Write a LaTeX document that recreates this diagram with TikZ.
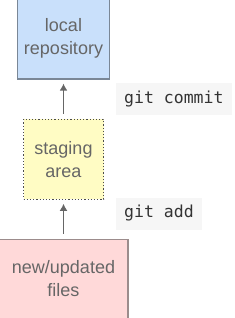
\documentclass[tikz,border=0pt]{standalone}
\usepackage{fontspec}
\setmainfont{Liberation Sans}
\setmonofont{DejaVu Sans Mono}
\usetikzlibrary{positioning, arrows.meta}
\definecolor{repofill}{HTML}{C9E0FB}
\definecolor{repoline}{HTML}{7A8796}
\definecolor{stagefill}{HTML}{FFFCC4}
\definecolor{filesfill}{HTML}{FFD9D9}
\definecolor{filesline}{HTML}{9C8C8C}
\definecolor{labeltext}{HTML}{666666}
\definecolor{cmdfill}{HTML}{F6F6F6}

\begin{document}
\begin{tikzpicture}[x=1pt, y=-1pt,
  node distance=39pt,
  box/.style={align=center, font=\fontsize{18}{23}\selectfont, text=labeltext, line width=1.2pt},
  cmd/.style={fill=cmdfill, font=\ttfamily\fontsize{16.5}{20}\selectfont, text=black!80, inner xsep=8pt, minimum height=32pt, anchor=west},
  arr/.style={-{Latex[length=7pt, width=8pt]}, line width=1.6pt, draw=black!60, shorten >=4pt, shorten <=5pt}]
\useasboundingbox (0,0) rectangle (234,318);
\node[box, draw=repoline, fill=repofill, minimum width=92pt, minimum height=82pt] (repo) at (63.5,38) {local\\repository};
\node[box, draw=black!70, dotted, fill=stagefill, minimum width=80pt, minimum height=80pt, below=of repo] (staging) {staging\\area};
\node[box, draw=filesline, fill=filesfill, minimum width=129pt, minimum height=79pt, below=of staging] (files) {new/updated\\files};
\foreach \a/\b in {staging/repo, files/staging} \draw[arr] (\a) -- (\b);
\node[cmd] (commit) at (116,99) {git commit};
\node[cmd] (add) at (116,213.5) {git add};
\end{tikzpicture}
\end{document}
